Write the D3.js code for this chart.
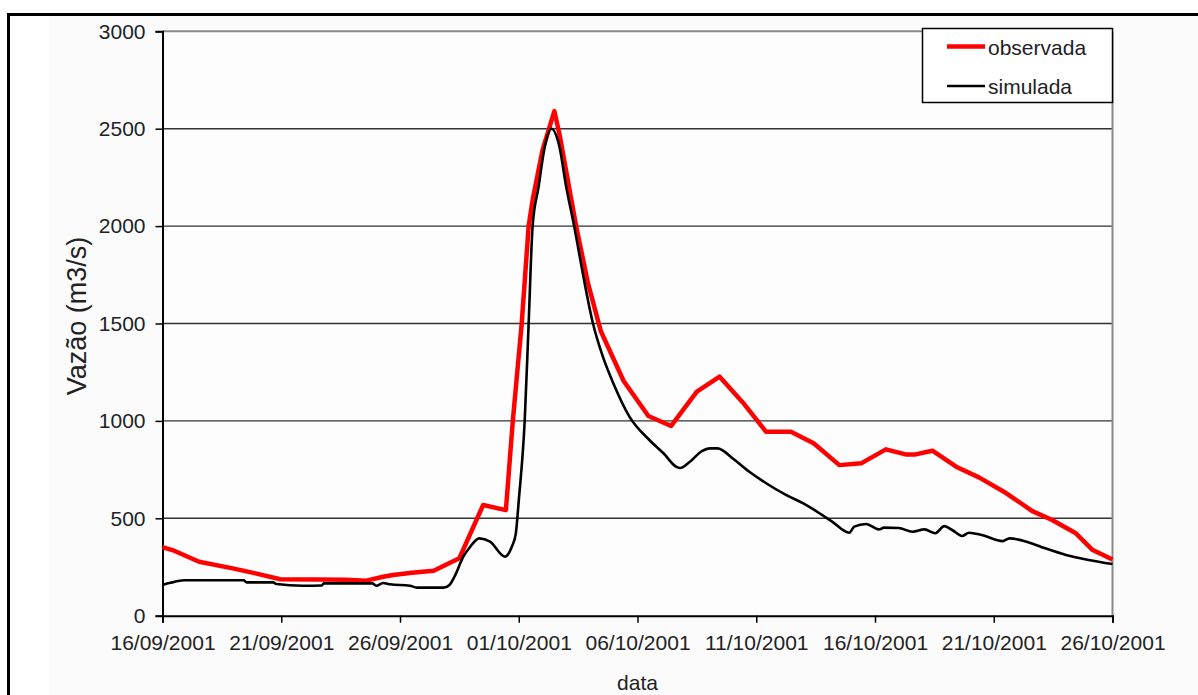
<!DOCTYPE html>
<html>
<head>
<meta charset="utf-8">
<script src="https://cdn.jsdelivr.net/npm/d3@7/dist/d3.min.js"></script>
<style>
  html, body { margin: 0; padding: 0; background: #ffffff; }
  svg { display: block; font-family: "Liberation Sans", Arial, sans-serif; }
</style>
</head>
<body>
<svg id="chart" width="1198" height="695"></svg>
<script>
// Observed discharge (vazão observada), m3/s
const obsTimes = [
  "2001-09-16 00:00","2001-09-16 10:00","2001-09-17 13:00","2001-09-18 23:00","2001-09-19 22:00",
  "2001-09-20 23:00","2001-09-22 12:00","2001-09-23 17:00","2001-09-24 14:00","2001-09-25 07:00",
  "2001-09-25 17:00","2001-09-26 12:00","2001-09-27 10:00","2001-09-28 12:00","2001-09-29 12:00",
  "2001-09-30 11:00","2001-09-30 18:00","2001-10-01 03:00","2001-10-01 10:00","2001-10-01 14:00",
  "2001-10-02 00:00","2001-10-02 12:00","2001-10-02 17:00","2001-10-03 10:00","2001-10-03 22:00",
  "2001-10-04 11:00","2001-10-05 10:00","2001-10-06 11:00","2001-10-07 10:00","2001-10-08 12:00",
  "2001-10-09 11:00","2001-10-10 12:00","2001-10-11 10:00","2001-10-12 11:00","2001-10-13 10:00",
  "2001-10-14 12:00","2001-10-15 10:00","2001-10-16 11:00","2001-10-17 07:00","2001-10-17 17:00",
  "2001-10-18 10:00","2001-10-19 10:00","2001-10-20 09:00","2001-10-21 12:00","2001-10-22 15:00",
  "2001-10-23 11:00","2001-10-24 11:00","2001-10-25 04:00","2001-10-26 00:00"
];
const obsValues = [
  352, 337, 277, 243, 217,
  187, 186, 184, 180, 200,
  209, 221, 231, 295, 568,
  542, 1000, 1500, 2000, 2134,
  2390, 2590, 2476, 2000, 1706,
  1460, 1205, 1025, 974, 1150,
  1227, 1085, 944, 944, 885,
  773, 782, 854, 828, 828,
  847, 765, 710, 631, 537,
  491, 423, 337, 288
];

// Simulated discharge (vazão simulada), m3/s
const simTimes = [
  "2001-09-16 00:00","2001-09-16 08:00","2001-09-16 22:00","2001-09-19 10:00","2001-09-19 13:00",
  "2001-09-20 16:00","2001-09-20 19:00","2001-09-21 22:00","2001-09-22 17:00","2001-09-22 19:00",
  "2001-09-24 20:00","2001-09-25 00:00","2001-09-25 07:00","2001-09-25 14:00","2001-09-26 10:00",
  "2001-09-26 17:00","2001-09-27 20:00","2001-09-28 02:00","2001-09-28 07:00","2001-09-28 16:00",
  "2001-09-28 23:00","2001-09-29 08:00","2001-09-29 19:00","2001-09-30 10:00","2001-09-30 17:00",
  "2001-09-30 21:00","2001-10-01 00:00","2001-10-01 06:00","2001-10-01 10:00","2001-10-01 14:00",
  "2001-10-01 20:00","2001-10-02 02:00","2001-10-02 09:00","2001-10-02 17:00","2001-10-03 00:00",
  "2001-10-03 08:00","2001-10-03 17:00","2001-10-04 03:00","2001-10-04 13:00","2001-10-04 23:00",
  "2001-10-05 16:00","2001-10-06 12:00","2001-10-07 03:00","2001-10-07 15:00","2001-10-07 19:00",
  "2001-10-08 05:00","2001-10-08 17:00","2001-10-09 01:00","2001-10-09 09:00","2001-10-10 00:00",
  "2001-10-10 17:00","2001-10-11 10:00","2001-10-12 06:00","2001-10-13 00:00","2001-10-13 09:00",
  "2001-10-14 05:00","2001-10-14 22:00","2001-10-15 03:00","2001-10-15 15:00","2001-10-16 04:00",
  "2001-10-16 09:00","2001-10-17 00:00","2001-10-17 14:00","2001-10-18 02:00","2001-10-18 13:00",
  "2001-10-18 22:00","2001-10-19 06:00","2001-10-19 16:00","2001-10-19 23:00","2001-10-20 12:00",
  "2001-10-21 09:00","2001-10-21 16:00","2001-10-22 12:00","2001-10-23 04:00","2001-10-24 01:00",
  "2001-10-25 00:00","2001-10-26 00:00"
];
const simValues = [
  158, 169, 182, 182, 171,
  171, 163, 154, 155, 166,
  166, 154, 168, 161, 154,
  144, 144, 158, 200, 303,
  354, 397, 380, 303, 354,
  420, 590, 1000, 1500, 2000,
  2200, 2400, 2500, 2410, 2200,
  2000, 1750, 1500, 1330, 1200,
  1021, 902, 830, 765, 758,
  790, 845, 859, 859, 808,
  739, 680, 620, 575, 548,
  482, 426, 457, 471, 443,
  452, 450, 431, 443, 423,
  460, 440, 409, 426, 414,
  383, 397, 375, 346, 312,
  286, 265
];

const yTicks = [0, 500, 1000, 1500, 2000, 2500, 3000];
const xTickDates = ["2001-09-16","2001-09-21","2001-09-26","2001-10-01","2001-10-06",
                    "2001-10-11","2001-10-16","2001-10-21","2001-10-26"];
const seriesNames = ["observada", "simulada"];
const seriesColors = ["#ff0000", "#000000"];

const parseTime = d3.timeParse("%Y-%m-%d %H:%M");
const parseDay = d3.timeParse("%Y-%m-%d");
const fmtDay = d3.timeFormat("%d/%m/%Y");

const observed = obsTimes.map((t, i) => ({ t: parseTime(t), v: obsValues[i] }));
const simulated = simTimes.map((t, i) => ({ t: parseTime(t), v: simValues[i] }));

const svg = d3.select("#chart");
const W = 1198, H = 695;
const plot = { left: 162.5, right: 1112.5, top: 31.3, bottom: 615.7 };
const FONT = 21;

// chart area background and outer frame (left/top edges)
svg.append("rect").attr("x", 50).attr("y", 16).attr("width", W - 50).attr("height", H - 16)
  .attr("fill", "#fbfbfb");
svg.append("line").attr("x1", 8.5).attr("x2", 8.5).attr("y1", 13).attr("y2", H)
  .attr("stroke", "#000").attr("stroke-width", 3);
svg.append("line").attr("x1", 7).attr("x2", W).attr("y1", 14.5).attr("y2", 14.5)
  .attr("stroke", "#000").attr("stroke-width", 3);

const x = d3.scaleTime()
  .domain([parseDay("2001-09-16"), parseDay("2001-10-26")])
  .range([plot.left, plot.right]);
const y = d3.scaleLinear().domain([0, 3000]).range([plot.bottom, plot.top]);

// plot area fill
svg.append("rect").attr("x", plot.left).attr("y", plot.top)
  .attr("width", plot.right - plot.left).attr("height", plot.bottom - plot.top)
  .attr("fill", "#fdfdfd");

// horizontal gridlines
svg.append("g").selectAll("line").data(yTicks.filter(v => v > 0))
  .join("line")
  .attr("x1", plot.left).attr("x2", plot.right)
  .attr("y1", d => y(d)).attr("y2", d => y(d))
  .attr("stroke", d => d === 3000 ? "#8a8a8a" : "#333")
  .attr("stroke-width", d => d === 3000 ? 2 : 1.4);

// right border of plot area
svg.append("line").attr("x1", plot.right).attr("x2", plot.right)
  .attr("y1", plot.top).attr("y2", plot.bottom)
  .attr("stroke", "#8a8a8a").attr("stroke-width", 2);

// y axis
const yAxis = d3.axisLeft(y).tickValues(yTicks).tickSize(7).tickPadding(10).tickFormat(d3.format("d"));
const gy = svg.append("g").attr("transform", `translate(${plot.left},0)`).call(yAxis);
gy.select(".domain").attr("stroke", "#000").attr("stroke-width", 2);
gy.selectAll(".tick line").attr("stroke", "#000").attr("stroke-width", 1.5);
gy.selectAll(".tick text").attr("font-size", FONT).attr("fill", "#222")
  .attr("font-family", "Liberation Sans, Arial, sans-serif");

// x axis
const xAxis = d3.axisBottom(x).tickValues(xTickDates.map(parseDay)).tickSize(7).tickPadding(12)
  .tickFormat(fmtDay);
const gx = svg.append("g").attr("transform", `translate(0,${plot.bottom})`).call(xAxis);
gx.select(".domain").attr("stroke", "#000").attr("stroke-width", 2);
gx.selectAll(".tick line").attr("stroke", "#000").attr("stroke-width", 1.5);
gx.selectAll(".tick text").attr("font-size", FONT).attr("fill", "#222")
  .attr("font-family", "Liberation Sans, Arial, sans-serif");

// axis titles
svg.append("text").attr("x", (plot.left + plot.right) / 2).attr("y", 690)
  .attr("text-anchor", "middle").attr("font-size", FONT).attr("fill", "#222").text("data");
svg.append("text").attr("transform", "translate(86,316) rotate(-90)")
  .attr("text-anchor", "middle").attr("font-size", 27).attr("fill", "#222").text("Vazão (m3/s)");

// series lines
const line = d3.line().x(d => x(d.t)).y(d => y(d.v));
svg.append("path").datum(observed).attr("d", line)
  .attr("fill", "none").attr("stroke", seriesColors[0]).attr("stroke-width", 4.5)
  .attr("stroke-linejoin", "round");
svg.append("path").datum(simulated).attr("d", line.curve(d3.curveMonotoneX))
  .attr("fill", "none").attr("stroke", seriesColors[1]).attr("stroke-width", 2.6)
  .attr("stroke-linejoin", "round");

// legend
const lg = svg.append("g");
lg.append("rect").attr("x", 922.5).attr("y", 28.5).attr("width", 190).attr("height", 74)
  .attr("fill", "#fff").attr("stroke", "#000").attr("stroke-width", 1.5);
const legendY = [46.5, 86];
seriesNames.forEach((name, i) => {
  lg.append("line").attr("x1", 947).attr("x2", 985).attr("y1", legendY[i]).attr("y2", legendY[i])
    .attr("stroke", seriesColors[i]).attr("stroke-width", i === 0 ? 4.5 : 2.6);
  lg.append("text").attr("x", 988).attr("y", legendY[i] + 8).attr("font-size", FONT)
    .attr("fill", "#222").text(name);
});
</script>
</body>
</html>
